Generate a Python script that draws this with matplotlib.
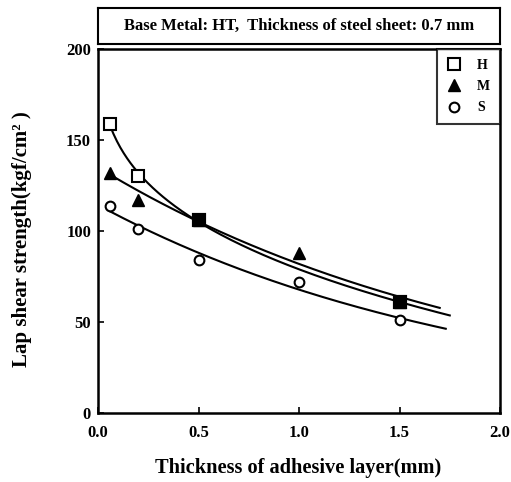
import matplotlib
matplotlib.use("Agg")
import matplotlib.pyplot as plt
import numpy as np

plt.rcParams['font.family'] = ['Liberation Serif', 'DejaVu Serif']
plt.rcParams['font.weight'] = 'bold'

# measured lap shear strength for each adhesive grade
x_h = [0.06, 0.2, 0.5, 1.5]
y_h = [159, 130, 106, 61]
x_m = [0.06, 0.2, 0.5, 1.0, 1.5]
y_m = [132, 117, 106, 88, 61]
x_s = [0.06, 0.2, 0.5, 1.0, 1.5]
y_s = [114, 101, 84, 72, 51]

# end of each trend curve
end_h = 1.75
end_m = 1.70
end_s = 1.73


def fit_power(x, y):
    # y = a + b*x**p, p by grid search, a and b by least squares
    x = np.asarray(x, float)
    y = np.asarray(y, float)
    best = None
    for p in np.linspace(0.3, 2.0, 341):
        A = np.column_stack([np.ones_like(x), x ** p])
        coef = np.linalg.lstsq(A, y, rcond=None)[0]
        err = np.sum((A @ coef - y) ** 2)
        if best is None or err < best[0]:
            best = (err, p, coef)
    _, p, (a, b) = best
    return lambda t: a + b * t ** p


def fit_exp(x, y):
    # y = a*exp(k*x), straight line on log scale
    k, c = np.polyfit(x, np.log(y), 1)
    return lambda t: np.exp(c + k * t)


fig = plt.figure(figsize=(5.11, 4.82), dpi=100)
ax = fig.add_axes([0.1918, 0.1432, 0.7867, 0.7551])

for fit, xs, ys, end in [(fit_power, x_h, y_h, end_h),
                         (fit_exp, x_m, y_m, end_m),
                         (fit_exp, x_s, y_s, end_s)]:
    f = fit(xs, ys)
    t = np.linspace(xs[0], end, 200)
    ax.plot(t, f(t), color='black', lw=1.5, zorder=2)

ax.plot(x_s, y_s, 'o', ms=7, mfc='white', mec='black', mew=1.5, label='S', zorder=3)
ax.plot(x_h, y_h, 's', ms=8, mfc='white', mec='black', mew=1.5, label='H', zorder=3)
ax.plot(x_m, y_m, '^', ms=8, mfc='black', mec='black', mew=1.0, label='M', zorder=4)

# where H and M coincide the two markers print as one solid square
both = [(x, y) for x, y in zip(x_h, y_h) if (x, y) in set(zip(x_m, y_m))]
ax.plot([b[0] for b in both], [b[1] for b in both], 's', ms=8, mfc='black',
        mec='black', mew=1.5, zorder=5)

ax.set_xlim(0, 2.0)
ax.set_ylim(0, 200)
ax.set_xticks([0, 0.5, 1.0, 1.5, 2.0])
ax.set_xticklabels(['0.0', '0.5', '1.0', '1.5', '2.0'])
ax.set_yticks([0, 50, 100, 150, 200])
ax.tick_params(direction='in', length=4, width=1.2, labelsize=12)
ax.tick_params(axis='x', pad=9)
ax.tick_params(axis='y', pad=5)
for s in ax.spines.values():
    s.set_linewidth(1.8)

h, l = ax.get_legend_handles_labels()
order = [1, 2, 0]
leg = ax.legend([h[i] for i in order], [l[i] for i in order], loc='upper right',
                borderaxespad=0, fancybox=False, edgecolor='black',
                fontsize=10, handlelength=1.0, handletextpad=1.2,
                labelspacing=0.6, borderpad=0.7)
leg.get_frame().set_linewidth(1.5)

# header box above the plot
hdr = fig.add_axes([0.1918, 0.9087, 0.7867, 0.0747])
hdr.set_xticks([])
hdr.set_yticks([])
for s in hdr.spines.values():
    s.set_linewidth(1.5)
hdr.text(0.5, 0.5, 'Base Metal: HT,  Thickness of steel sheet: 0.7 mm',
         ha='center', va='center', fontsize=12, fontweight='bold')

fig.text(0.583, 0.029, 'Thickness of adhesive layer(mm)', ha='center', va='center',
         fontsize=14.7, fontweight='bold')
fig.text(0.043, 0.504, 'Lap shear strength(kgf/cm² )', ha='center', va='center',
         rotation=90, fontsize=15, fontweight='bold')

fig.savefig('out.png', dpi=100)
